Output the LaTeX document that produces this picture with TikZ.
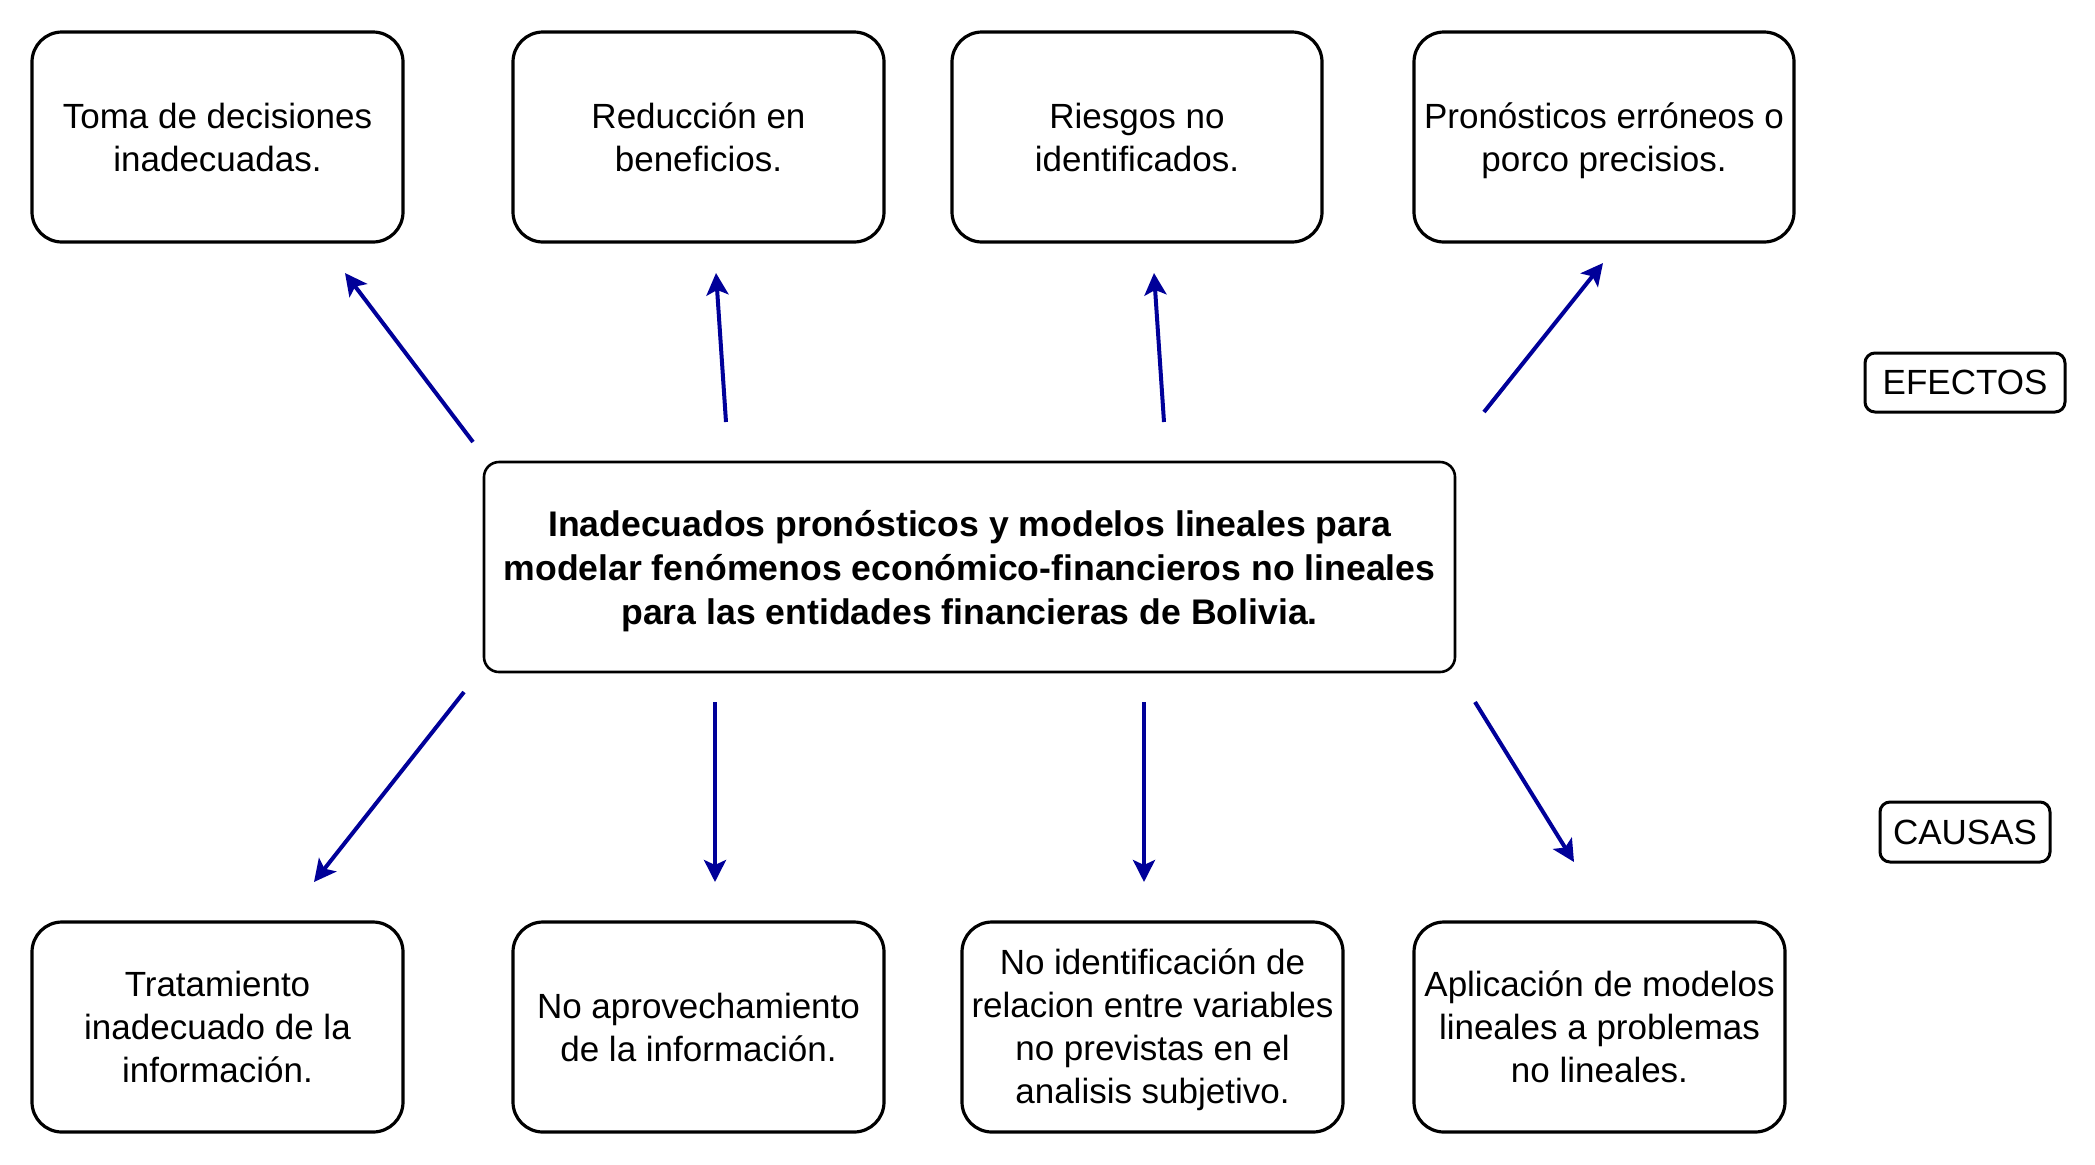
\documentclass[tikz,border=0pt]{standalone}
\usepackage{fontspec}
\setmainfont{Liberation Sans}
\usetikzlibrary{arrows.meta}
\definecolor{arrowblue}{RGB}{0,0,153}
\tikzset{
  boxfont/.style={font=\fontsize{17.5}{21.5}\selectfont},
  box/.style={draw=black, line width=1.6pt, rounded corners=15pt, fill=white, align=center,
    inner sep=0pt, boxfont},
  boxtext/.style={align=center, inner sep=0pt, boxfont},
  tagbox/.style={draw=black, line width=1.5pt, rounded corners=5pt, fill=white, align=center,
    inner sep=0pt, boxfont},
  mainbox/.style={draw=black, line width=1.3pt, rounded corners=7.5pt, fill=white, align=center,
    inner sep=0pt},
  maintext/.style={align=center, inner sep=0pt, font=\fontsize{17.8}{22}\selectfont\bfseries},
  link/.style={draw=arrowblue, line width=2pt, -{Stealth[length=11pt,width=11pt,inset=2.5pt]}}
}
\begin{document}
\begin{tikzpicture}[x=0.5pt,y=-0.5pt]
\useasboundingbox (0,0) rectangle (2095,1164);
% effects
\node[box, minimum width=185.5pt, minimum height=105pt] (e1) at (217.5,137) {Toma de decisiones\\inadecuadas.};
\node[box, minimum width=185.5pt, minimum height=105pt] (e2) at (698.5,137) {Reducción en\\beneficios.};
\node[box, minimum width=185pt, minimum height=105pt] (e3) at (1137,137) {Riesgos no\\identificados.};
\node[box, minimum width=190pt, minimum height=105pt,
  label={[boxtext, yshift=-1.7pt]center:{Pronósticos erróneos o\\porco precisios.}}] (e4) at (1604,137) {};
\node[tagbox, minimum width=100pt, minimum height=29.5pt] (efx) at (1965,382.5) {EFECTOS};
% central problem
\node[mainbox, minimum width=485.5pt, minimum height=105pt,
  label={[maintext, yshift=-2pt]center:{Inadecuados pronósticos y modelos lineales para\\modelar fenómenos económico-financieros no lineales\\para las entidades financieras de Bolivia.}}] (p) at (969.5,567) {};
% causes
\node[box, minimum width=185.5pt, minimum height=105pt] (c1) at (217.5,1027) {Tratamiento\\inadecuado de la\\información.};
\node[box, minimum width=185.5pt, minimum height=105pt] (c2) at (698.5,1027) {No aprovechamiento\\de la información.};
\node[box, minimum width=190.5pt, minimum height=105pt,
  label={[boxtext, yshift=-1.3pt]center:{No identificación de\\relacion entre variables\\no previstas en el\\analisis subjetivo.}}] (c3) at (1152.5,1027) {};
\node[box, minimum width=185.5pt, minimum height=105pt] (c4) at (1599.5,1027) {Aplicación de modelos\\lineales a problemas\\no lineales.};
\node[tagbox, minimum width=85pt, minimum height=30pt] (cau) at (1965,832) {CAUSAS};
% free arrow end points
\coordinate (ua1) at (473,442); \coordinate (ub1) at (345,273);
\coordinate (ua2) at (726,422); \coordinate (ub2) at (716,273);
\coordinate (ua3) at (1164,422); \coordinate (ub3) at (1154,273);
\coordinate (ua4) at (1484,412); \coordinate (ub4) at (1603,263);
\coordinate (da1) at (464,692); \coordinate (db1) at (314,882);
\coordinate (da2) at (715,702); \coordinate (db2) at (715,882);
\coordinate (da3) at (1144,702); \coordinate (db3) at (1144,882);
\coordinate (da4) at (1475,702); \coordinate (db4) at (1574,862);
\draw[link] (ua1) -- (ub1);
\draw[link] (ua2) -- (ub2);
\draw[link] (ua3) -- (ub3);
\draw[link] (ua4) -- (ub4);
\draw[link] (da1) -- (db1);
\draw[link] (da2) -- (db2);
\draw[link] (da3) -- (db3);
\draw[link] (da4) -- (db4);
\end{tikzpicture}
\end{document}
